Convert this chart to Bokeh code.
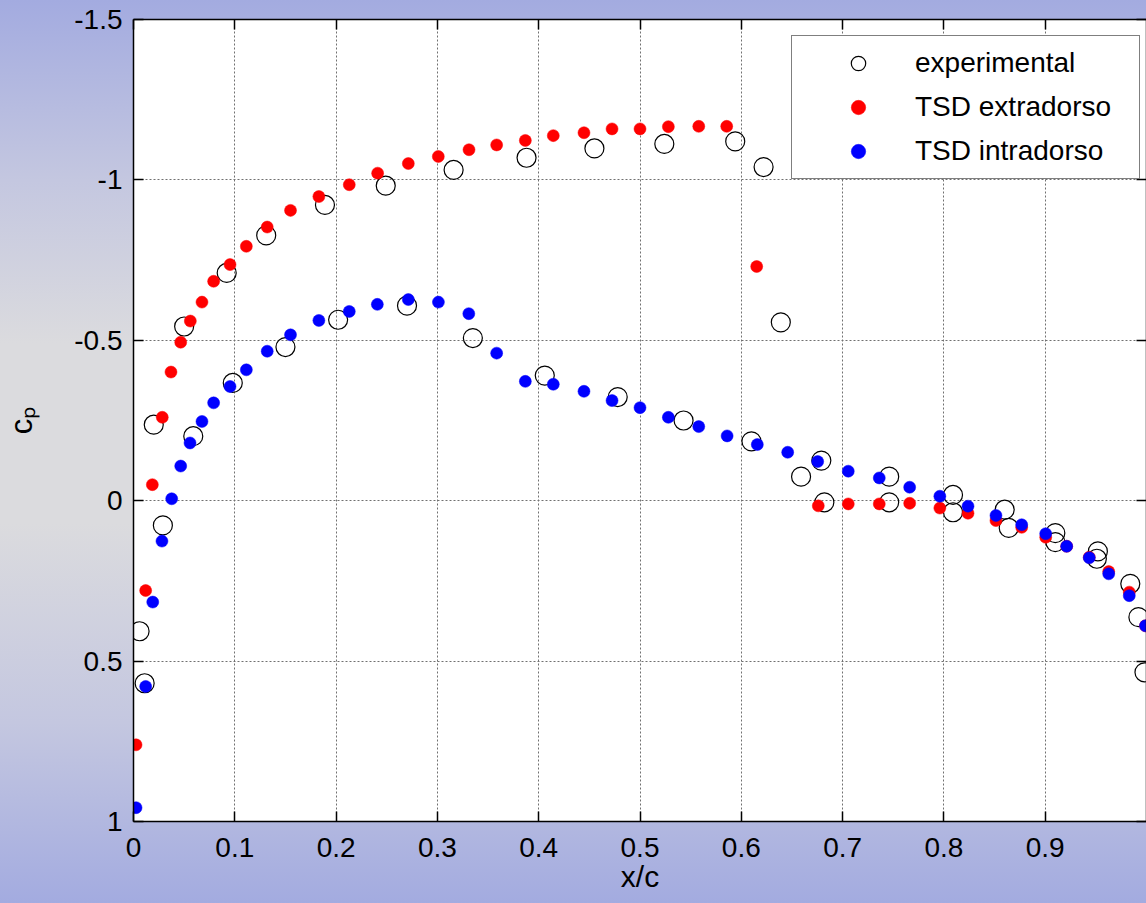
from bokeh.plotting import figure
from bokeh.models import Range1d, LinearAxis, FixedTicker
from bokeh.embed import file_html
from bokeh.resources import INLINE

# ---------------- data ----------------
x_exp = [0.006, 0.011, 0.020, 0.029, 0.050, 0.059, 0.092, 0.098, 0.131, 0.150,
         0.189, 0.202, 0.249, 0.270, 0.316, 0.335, 0.388, 0.406, 0.455, 0.478,
         0.524, 0.543, 0.594, 0.610, 0.622, 0.639, 0.659, 0.679, 0.682, 0.746,
         0.746, 0.809, 0.809, 0.860, 0.864, 0.910, 0.910, 0.952, 0.951, 0.984,
         0.992, 0.998]
cp_exp = [0.407, 0.569, -0.237, 0.077, -0.543, -0.201, -0.710, -0.367, -0.827, -0.479,
          -0.922, -0.564, -0.982, -0.608, -1.031, -0.507, -1.069, -0.390, -1.098, -0.323,
          -1.112, -0.250, -1.120, -0.185, -1.040, -0.556, -0.075, -0.125, 0.005, -0.075,
          0.005, -0.018, 0.036, 0.028, 0.085, 0.101, 0.129, 0.158, 0.181, 0.259,
          0.363, 0.535]

x_ext = [0.0025, 0.012, 0.0186, 0.0284, 0.037, 0.0466, 0.0561, 0.0676, 0.0791, 0.0953,
         0.1114, 0.132, 0.155, 0.183, 0.213, 0.241, 0.2713, 0.3009, 0.3312, 0.3585,
         0.3868, 0.4144, 0.4447, 0.4724, 0.500, 0.528, 0.558, 0.5856, 0.6152, 0.676,
         0.7056, 0.7362, 0.7662, 0.796, 0.8238, 0.8514, 0.8768, 0.9005, 0.9212, 0.9435,
         0.9627, 0.983, 0.999]
cp_ext = [0.761, 0.280, -0.050, -0.260, -0.401, -0.494, -0.560, -0.619, -0.684, -0.736,
          -0.793, -0.853, -0.905, -0.948, -0.985, -1.021, -1.051, -1.073, -1.094, -1.109,
          -1.123, -1.138, -1.147, -1.159, -1.159, -1.166, -1.167, -1.167, -0.730, 0.016,
          0.010, 0.010, 0.008, 0.023, 0.039, 0.062, 0.083, 0.114, 0.142, 0.176,
          0.221, 0.285, 0.390]

x_int = [0.0025, 0.012, 0.019, 0.0281, 0.0377, 0.0466, 0.0558, 0.0676, 0.0791, 0.0953,
         0.1114, 0.132, 0.155, 0.183, 0.213, 0.2407, 0.2713, 0.301, 0.331, 0.3585,
         0.3868, 0.4144, 0.4447, 0.4724, 0.500, 0.528, 0.558, 0.586, 0.6158, 0.6458,
         0.6754, 0.7056, 0.7362, 0.7662, 0.796, 0.8238, 0.8514, 0.8768, 0.9005, 0.9212,
         0.9435, 0.9627, 0.983, 0.999]
cp_int = [0.957, 0.579, 0.316, 0.126, -0.006, -0.108, -0.180, -0.247, -0.305, -0.356,
          -0.408, -0.466, -0.517, -0.562, -0.590, -0.612, -0.627, -0.619, -0.583, -0.460,
          -0.372, -0.363, -0.341, -0.312, -0.290, -0.260, -0.231, -0.202, -0.175, -0.151,
          -0.122, -0.092, -0.071, -0.042, -0.014, 0.017, 0.046, 0.075, 0.103, 0.142,
          0.178, 0.228, 0.296, 0.390]

x_ticks = [0, 0.1, 0.2, 0.3, 0.4, 0.5, 0.6, 0.7, 0.8, 0.9]
x_tick_labels = ["0", "0.1", "0.2", "0.3", "0.4", "0.5", "0.6", "0.7", "0.8", "0.9"]
y_ticks = [-1.5, -1, -0.5, 0, 0.5, 1]
y_tick_labels = ["-1.5", "-1", "-0.5", "0", "0.5", "1"]

series_names = ["experimental", "TSD extradorso", "TSD intradorso"]
x_label = "x/c"
y_label = "c\u209a"   # c with subscript p

FONT = "Liberation Sans"

# ---------------- figure ----------------
p = figure(width=1146, height=903, output_backend="svg", toolbar_location=None,
           x_range=Range1d(0, 1), y_range=Range1d(1, -1.5),
           min_border_left=133, min_border_right=0, min_border_top=19,
           min_border_bottom=82)
p.border_fill_alpha = 0
p.background_fill_color = "white"
p.outline_line_color = None
p.styles = {"background": "linear-gradient(to bottom, #a3abe0 0%, #c4c7e0 20%, "
                          "#dbdbde 38%, #dbdbde 58%, #c4c7e0 80%, #a3abe0 100%)"}

for ax in (p.xaxis[0], p.yaxis[0]):
    ax.axis_line_color = "black"
    ax.axis_line_width = 1.5
    ax.major_tick_in = 10
    ax.major_tick_out = 0
    ax.major_tick_line_width = 1.5
    ax.minor_tick_line_color = None
    ax.major_label_text_font = FONT
    ax.major_label_text_font_size = "28px"
    ax.major_label_text_color = "black"
    ax.axis_label_text_font = FONT
    ax.axis_label_text_font_style = "normal"
    ax.axis_label_text_color = "black"

p.xaxis[0].ticker = FixedTicker(ticks=x_ticks)
p.xaxis[0].major_label_overrides = dict(zip(x_ticks, x_tick_labels))
p.xaxis[0].major_label_standoff = 16
p.xaxis[0].axis_label = x_label
p.xaxis[0].axis_label_text_font_size = "30px"
p.xaxis[0].axis_label_standoff = 0

p.yaxis[0].ticker = FixedTicker(ticks=y_ticks)
p.yaxis[0].major_label_overrides = dict(zip(y_ticks, y_tick_labels))
p.yaxis[0].major_label_standoff = 11
p.yaxis[0].axis_label = y_label
p.yaxis[0].axis_label_text_font_size = "31px"
p.yaxis[0].axis_label_standoff = 32

# box axes (top / right) with inward ticks, no labels
top_ax = LinearAxis(ticker=FixedTicker(ticks=x_ticks),
                    major_label_overrides={t: "" for t in x_ticks})
right_ax = LinearAxis(ticker=FixedTicker(ticks=y_ticks),
                      major_label_overrides={t: "" for t in y_ticks})
for ax in (top_ax, right_ax):
    ax.axis_line_color = "black"
    ax.axis_line_width = 1.5
    ax.major_tick_in = 10
    ax.major_tick_out = 0
    ax.major_tick_line_width = 1.5
    ax.minor_tick_line_color = None
    ax.major_label_text_font_size = "1px"
    ax.major_label_standoff = 0
p.add_layout(top_ax, "above")
p.add_layout(right_ax, "right")

for g in (p.xgrid[0], p.ygrid[0]):
    g.grid_line_color = "#707070"
    g.grid_line_dash = "2 2"
    g.grid_line_width = 1
p.xgrid[0].ticker = FixedTicker(ticks=x_ticks)
p.ygrid[0].ticker = FixedTicker(ticks=y_ticks)

# ---------------- data marks ----------------
p.scatter(x_exp, cp_exp, marker="circle", size=19, fill_color=None,
          line_color="black", line_width=1.2, legend_label=series_names[0])
p.scatter(x_ext, cp_ext, marker="circle", size=12, fill_color="#ff0000",
          line_color="#ff0000", line_width=0.5, legend_label=series_names[1])
p.scatter(x_int, cp_int, marker="circle", size=12, fill_color="#0000ff",
          line_color="#0000ff", line_width=0.5, legend_label=series_names[2])

# ---------------- legend ----------------
lg = p.legend[0]
lg.location = (658, 642)
lg.label_text_font = FONT
lg.label_text_font_size = "28px"
lg.label_text_color = "black"
lg.glyph_width = 114
lg.glyph_height = 36
lg.label_standoff = 0
lg.padding = 9
lg.spacing = 8
lg.label_width = 215
lg.margin = 0
lg.border_line_color = "black"
lg.border_line_width = 1.5
lg.background_fill_color = "white"
lg.background_fill_alpha = 1

open("out.html", "w").write(file_html(p, INLINE))
